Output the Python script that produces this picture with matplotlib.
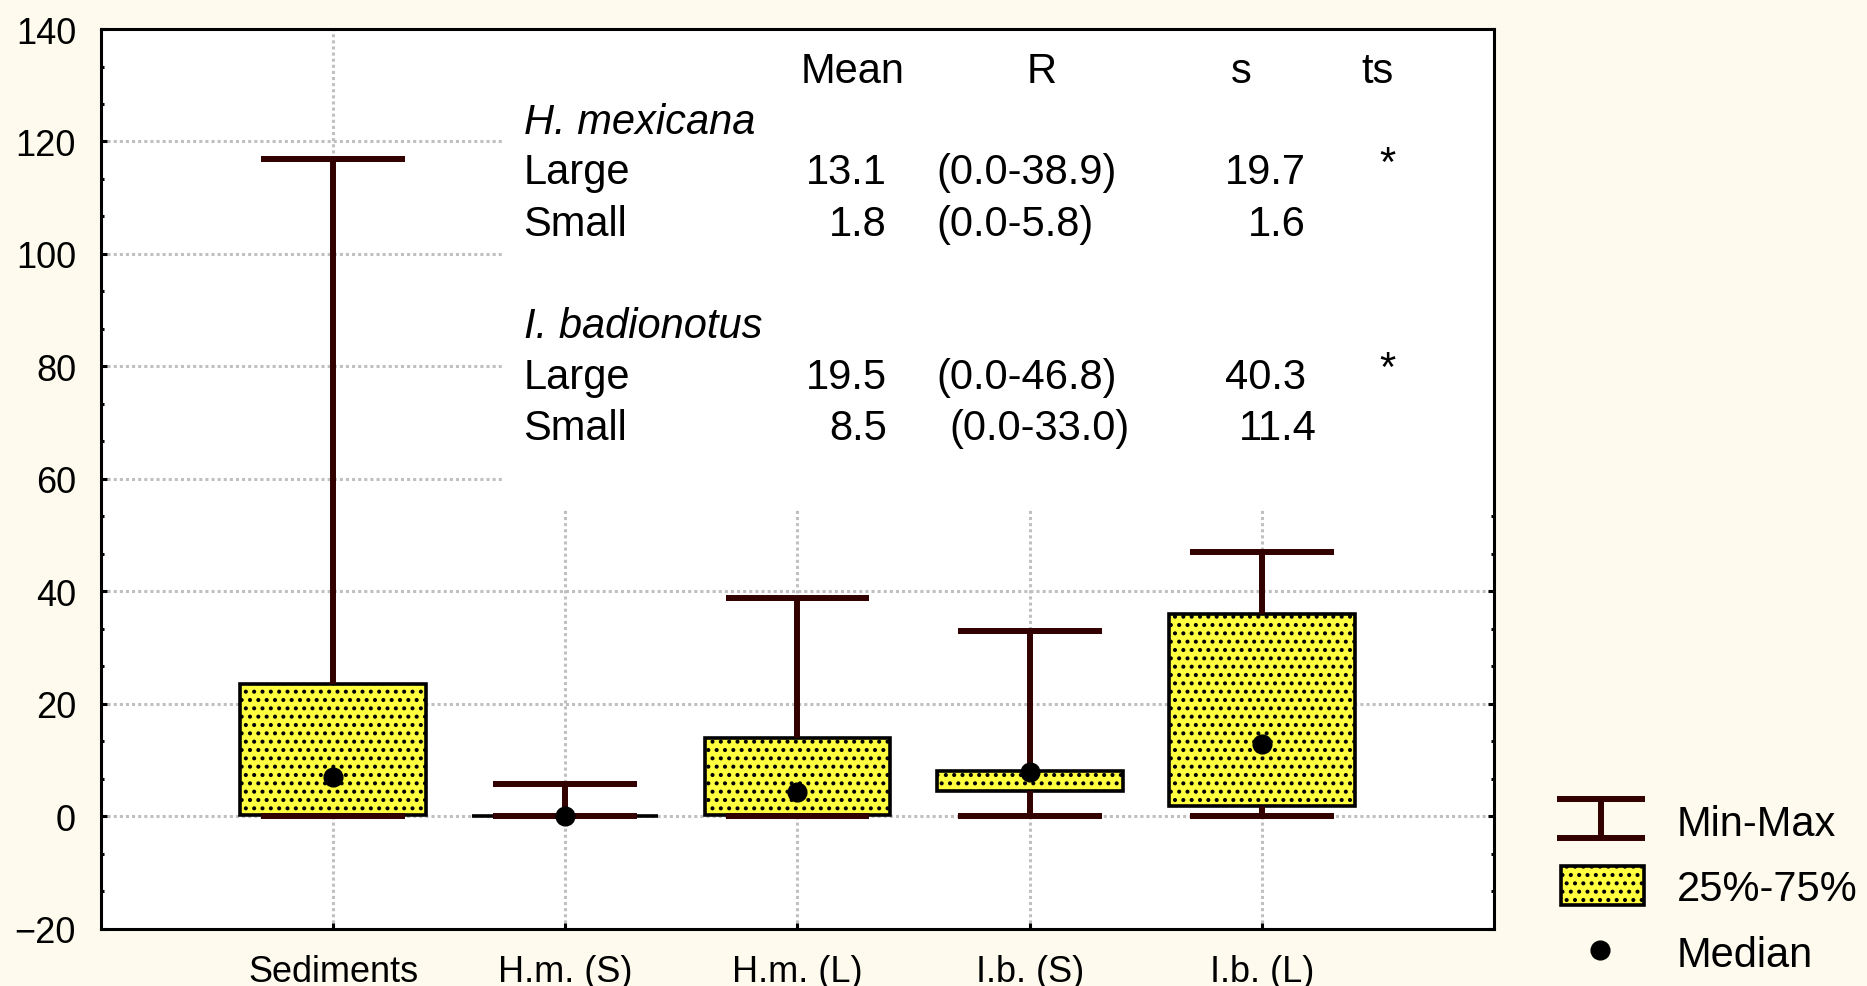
import matplotlib
matplotlib.use("Agg")
import matplotlib.pyplot as plt
from matplotlib.ticker import MultipleLocator, AutoMinorLocator
from matplotlib.patches import Rectangle

# --- data ---
categories = ["Sediments", "H.m. (S)", "H.m. (L)", "I.b. (S)", "I.b. (L)"]
mins = [0.0, 0.0, 0.0, 0.0, 0.0]
q1 = [0.3, 0.0, 0.2, 4.6, 1.9]
medians = [7.0, 0.0, 4.3, 7.9, 12.9]
q3 = [23.6, 0.0, 14.0, 8.1, 36.0]
maxs = [116.9, 5.8, 38.9, 33.0, 47.0]

# summary table printed inside the plot
table_header = ["Mean", "R", "s", "ts"]
species = ["H. mexicana", "I. badionotus"]
size_rows = ["Large", "Small"]
table_mean = [["13.1", "1.8"], ["19.5", "8.5"]]
table_range = [["(0.0-38.9)", "(0.0-5.8)"], ["(0.0-46.8)", "(0.0-33.0)"]]
table_sd = [["19.7", "1.6"], ["40.3", "11.4"]]
table_ts = [["*", ""], ["*", ""]]

legend_labels = ["Min-Max", "25%-75%", "Median"]

# --- style ---
plt.rcParams["font.family"] = ["Liberation Sans", "DejaVu Sans"]
plt.rcParams["hatch.linewidth"] = 1.7

BG = "#FEFBEE"
BOX_FILL = "#FFFF40"
WHISK = "#330000"

fig = plt.figure(figsize=(18.67, 9.87), dpi=100, facecolor=BG)
ax = fig.add_axes([0.0541, 0.0578, 0.7461, 0.9118])
ax.set_facecolor("white")

positions = list(range(1, len(categories) + 1))
stats = []
for lab, lo, a, m, b, hi in zip(categories, mins, q1, medians, q3, maxs):
    stats.append(dict(label=lab, whislo=lo, q1=a, med=m, q3=b, whishi=hi,
                      mean=m, fliers=[]))

box_style = dict(facecolor=BOX_FILL, edgecolor="black", linewidth=2.6, hatch="..")
ax.bxp(stats, positions=positions, widths=0.8, capwidths=0.62,
       patch_artist=True, showmeans=True,
       boxprops=box_style,
       whiskerprops=dict(color=WHISK, linewidth=4.3, solid_capstyle="butt"),
       capprops=dict(color=WHISK, linewidth=4.3, solid_capstyle="butt"),
       medianprops=dict(linewidth=0),
       meanprops=dict(marker="o", markerfacecolor="black",
                      markeredgecolor="black", markersize=13.5))

ax.set_xlim(0, 6)
ax.set_ylim(-20, 140)
ax.yaxis.set_major_locator(MultipleLocator(20))
ax.yaxis.set_minor_locator(AutoMinorLocator(3))
ax.set_xticks(positions)
ax.set_xticklabels(categories)

ax.set_axisbelow(True)
ax.grid(True, color="#C0C0C0", linestyle=(0, (1, 1)), linewidth=2.2)

for sp in ax.spines.values():
    sp.set_linewidth(2.2)
    sp.set_color("black")

ax.tick_params(axis="y", which="major", direction="in", length=4.5, width=2.2,
               left=True, right=True, labelsize=26, pad=18)
ax.tick_params(axis="y", which="minor", direction="in", length=2.5, width=2.2,
               left=True, right=True)
ax.tick_params(axis="x", which="major", direction="in", length=4.5, width=2.2,
               bottom=True, top=False, labelsize=26, pad=18)

# white panel behind the summary table (hides grid)
ax.add_patch(Rectangle((1.73, 54.6), 6 - 1.73, 140 - 54.6,
                       facecolor="white", edgecolor="none", zorder=1))

fs = 30
# header row
ax.text(3.015, 130.5, table_header[0], fontsize=fs, ha="left", va="baseline")
ax.text(4.05, 130.5, table_header[1], fontsize=fs, ha="center", va="baseline")
ax.text(4.91, 130.5, table_header[2], fontsize=fs, ha="center", va="baseline")
ax.text(5.50, 130.5, table_header[3], fontsize=fs, ha="center", va="baseline")

species_y = [124.2, 87.9]
row_y = [[115.3, 106.0], [78.8, 69.8]]
range_x = [[3.60, 3.60], [3.60, 3.656]]
sd_x = [[5.19, 5.19], [5.19, 5.237]]
for i, sp_name in enumerate(species):
    ax.text(1.82, species_y[i] - 2.7, sp_name, fontsize=fs, style="italic",
            ha="left", va="baseline")
    for j, row in enumerate(size_rows):
        y = row_y[i][j] - 2.7
        ax.text(1.82, y, row, fontsize=fs, ha="left", va="baseline")
        ax.text(3.385, y, table_mean[i][j], fontsize=fs, ha="right", va="baseline")
        ax.text(range_x[i][j], y, table_range[i][j], fontsize=fs, ha="left", va="baseline")
        ax.text(sd_x[i][j], y, table_sd[i][j], fontsize=fs, ha="right", va="baseline")
        if table_ts[i][j]:
            ax.text(5.54, y + 1.5, table_ts[i][j], fontsize=fs, ha="center", va="baseline")

# --- legend, drawn in its own pixel-scaled axes ---
lax = fig.add_axes([1540 / 1867, 0, 327 / 1867, 207 / 987])
lax.set_xlim(1540, 1867)
lax.set_ylim(987, 780)
lax.axis("off")
lax.plot([1557, 1645], [800, 800], color=WHISK, lw=4.3, solid_capstyle="butt")
lax.plot([1557, 1645], [839, 839], color=WHISK, lw=4.3, solid_capstyle="butt")
lax.plot([1601, 1601], [800, 839], color=WHISK, lw=4.3, solid_capstyle="butt")
lax.add_patch(Rectangle((1561, 867), 83, 39, **box_style))
lax.plot([1600], [951], marker="o", color="black", markersize=13.5)
for txt, yy in zip(legend_labels, [825, 890, 956]):
    lax.text(1677, yy, txt, fontsize=fs, ha="left", va="center")

fig.savefig("out.png", dpi=100, facecolor=BG)
